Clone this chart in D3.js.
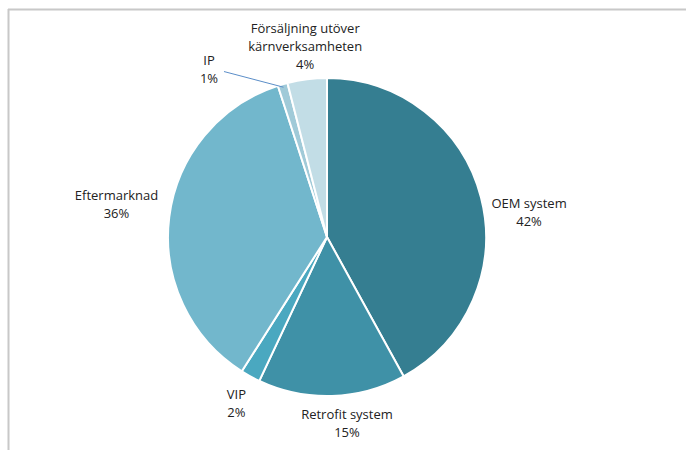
<!DOCTYPE html>
<html>
<head>
<meta charset="utf-8">
<script src="https://cdn.jsdelivr.net/npm/d3@7"></script>
<style>
  body { margin: 0; background: #fff; }
  text { font-family: "Open Sans", "Noto Sans", sans-serif; font-size: 13px; fill: #222; }
</style>
</head>
<body>
<div id="chart"></div>
<script>
// Segment share (%), clockwise from 12 o'clock
var categories = ['OEM system', 'Retrofit system', 'VIP', 'Eftermarknad', 'IP', 'Försäljning utöver kärnverksamheten'];
var values = [42, 15, 2, 36, 1, 4];
var labelLines = [['OEM system'], ['Retrofit system'], ['VIP'], ['Eftermarknad'], ['IP'], ['Försäljning utöver', 'kärnverksamheten']];
var colors = ['#357e91', '#3f91a7', '#4aa8c0', '#72b7cc', '#a0cad8', '#c2dde6'];

const w = 686, h = 450;
const cx = 327, cy = 237, radius = 159;
const labelRadius = 190;
const lineH = 18;
// nudges applied to the label centre (Excel "best fit" placement)
const nudge = [[18, 23], [14, -3], [1, 0], [-22, -9], [-65, 15], [2, -2]];

var svg = d3.select('#chart').append('svg')
    .attr('width', w)
    .attr('height', h);

// frame lines (top & left edge of the screenshot)
svg.append('line')
    .attr('x1', 8).attr('y1', 9.5).attr('x2', w).attr('y2', 9.5)
    .attr('stroke', '#c8c8c8').attr('stroke-width', 2);
svg.append('line')
    .attr('x1', 8.5).attr('y1', 9).attr('x2', 8.5).attr('y2', h)
    .attr('stroke', '#c8c8c8').attr('stroke-width', 2);

var data = categories.map(function (c, i) {
    return { name: c, value: values[i], lines: labelLines[i], color: colors[i], idx: i };
});

var pie = d3.pie()
    .sort(null)
    .value(function (d) { return d.value; });

var arc = d3.arc()
    .innerRadius(0)
    .outerRadius(radius);

var arcs = pie(data);

var g = svg.append('g')
    .attr('transform', 'translate(' + cx + ',' + cy + ')');

g.selectAll('path')
    .data(arcs)
    .enter().append('path')
    .attr('d', arc)
    .attr('fill', function (d) { return d.data.color; })
    .attr('stroke', '#fff')
    .attr('stroke-width', 2)
    .attr('stroke-linejoin', 'round');

function labelPos(d) {
    var a = (d.startAngle + d.endAngle) / 2;
    var n = nudge[d.data.idx];
    return [Math.sin(a) * labelRadius + n[0], -Math.cos(a) * labelRadius + n[1]];
}

// leader line for the small IP slice
var ipArc = arcs[4];
var ipMid = (ipArc.startAngle + ipArc.endAngle) / 2;
var ipPos = labelPos(ipArc);
g.append('line')
    .attr('x1', ipPos[0] + 15)
    .attr('y1', ipPos[1] + 2)
    .attr('x2', Math.sin(ipMid) * (radius - 3))
    .attr('y2', -Math.cos(ipMid) * (radius - 3))
    .attr('stroke', '#5b8ec8')
    .attr('stroke-width', 1);

var labels = g.selectAll('.slice_label')
    .data(arcs)
    .enter().append('text')
    .attr('class', 'slice_label')
    .attr('text-anchor', 'middle')
    .attr('transform', function (d) {
        var p = labelPos(d);
        return 'translate(' + p[0] + ',' + p[1] + ')';
    });

labels.each(function (d) {
    var lines = d.data.lines.concat([d.data.value + '%']);
    var t = d3.select(this);
    var top = -(lines.length - 1) * lineH / 2;
    lines.forEach(function (s, i) {
        t.append('tspan')
            .attr('x', 0)
            .attr('y', top + i * lineH)
            .attr('dy', '0.35em')
            .text(s);
    });
});
</script>
</body>
</html>
